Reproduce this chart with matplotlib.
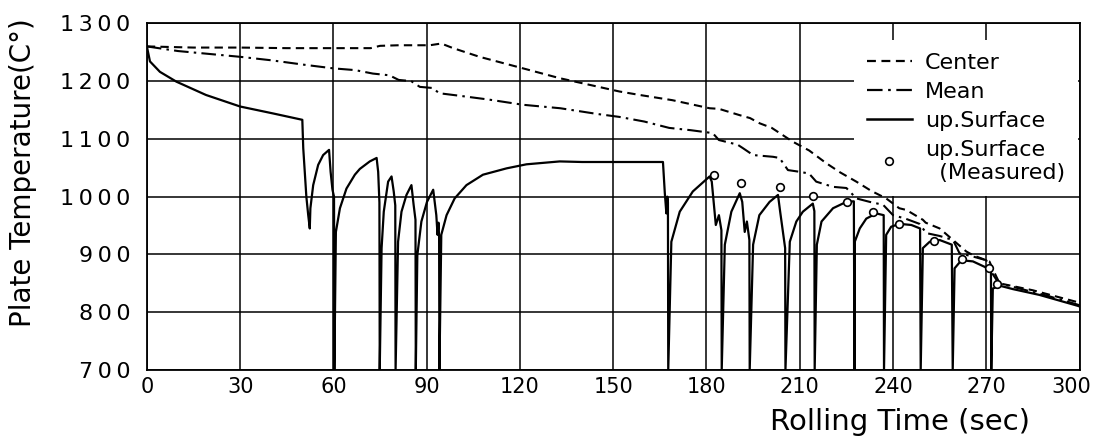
import numpy as np
import matplotlib
matplotlib.use('Agg')
import matplotlib.pyplot as plt
from matplotlib.lines import Line2D
from matplotlib.transforms import ScaledTranslation

#values, time in sec and temperature in C
#700 in the surface series stands for the sharp drops that go below the axis

center_t = [0, 15, 30, 45, 60, 72, 75, 81, 88, 91, 94.7, 98.5, 107, 121, 132.8,
            152, 158.5, 169, 181, 184, 190.7, 194, 197.1, 201, 207.8, 213, 218.5,
            223, 228.2, 233, 237.8, 242, 244.3, 249.6, 250.5, 255, 259.3, 263.6,
            266, 270, 271, 273.2, 274.3, 285, 299, 300]
center_T = [1260, 1258, 1258, 1257, 1257, 1257, 1261, 1262, 1262, 1262, 1265, 1257,
            1242, 1222, 1205, 1182, 1176, 1167, 1153, 1152, 1141, 1136, 1127, 1119,
            1095, 1080, 1058, 1042, 1026, 1010, 997, 980, 977, 960, 955, 945, 925,
            905, 898, 890, 888, 862, 850, 838, 818, 817]

mean_t = [0, 10, 20, 30, 40, 51, 60, 67, 72.7, 78, 81, 85, 87.8, 92, 94, 100, 110,
          121, 133, 145, 152, 160, 168, 175, 182, 184, 190, 191.7, 195, 201.4,
          203.5, 206.2, 210, 213, 215.3, 220.7, 225, 228.2, 232.5, 236.8, 240, 244,
          248.5, 250.7, 255, 259.3, 261.4, 266, 270, 271.6, 274, 280, 290, 299.5, 300]
mean_T = [1260, 1252, 1247, 1242, 1236, 1228, 1222, 1219, 1213, 1210, 1202, 1200,
          1190, 1188, 1179, 1175, 1168, 1159, 1153, 1143, 1138, 1130, 1119, 1115,
          1110, 1098, 1090, 1084, 1072, 1069, 1067, 1046, 1043, 1040, 1026, 1017,
          1015, 997, 991, 986, 968, 962, 953, 937, 932, 925, 902, 896, 890, 870,
          850, 842, 828, 813, 812]

surf_t = [0, 1, 4.2, 9.5, 19, 30, 40.6, 50, 50.3, 51.3, 51.9, 52.4, 52.6, 53.5, 55.1,
          56.7, 58.6, 59.1, 59.7, 60.2, 60.3, 60.8, 62.1, 64.2, 66.9, 68.5, 71.7,
          73.9, 74.4, 74.8, 74.9, 75.5, 76.2, 77.6, 78.7, 79.4, 79.9, 80.0, 80.8,
          81.9, 83.5, 85.1, 85.8, 86.4, 86.5, 87.0, 88.3, 90.1, 92.1, 93.1, 93.5,
          93.8, 94.0, 94.1, 94.7, 96.4, 99.0, 102.8, 108.1, 115.7, 122.1, 132.8,
          140, 166, 166.6, 167.1, 167.4, 167.6, 167.7, 168.7, 171.4, 175.6, 181.0,
          181.7, 183.0, 184.0, 184.8, 184.9, 185.9, 188.0, 190.7, 191.5, 192.3,
          193.0, 193.8, 193.9, 195.0, 197.0, 200.3, 203.0, 203.7, 204.6, 205.3,
          205.4, 206.8, 208.9, 211.0, 214.2, 214.7, 214.8, 215.5, 217.0, 220.7,
          225.0, 227.4, 227.6, 227.7, 229.3, 231.4, 234.6, 237.0, 237.1, 237.8,
          239.4, 242.1, 245.9, 248.7, 248.9, 249.6, 251.8, 255.0, 258.9, 259.2,
          259.8, 262.0, 265.7, 270.5, 271.5, 271.6, 272.1, 274.3, 278.6, 287.1,
          299.5, 300]
surf_T = [1260, 1234, 1216, 1199, 1176, 1156, 1144, 1133, 1084, 1000, 968, 945, 980,
          1020, 1055, 1072, 1081, 1043, 1012, 1000, 700, 939, 980, 1014, 1038, 1048,
          1061, 1067, 1043, 990, 700, 911, 974, 1026, 1035, 1009, 985, 700, 922, 974,
          1003, 1020, 986, 960, 700, 899, 957, 991, 1012, 968, 934, 955, 930, 700,
          934, 968, 997, 1020, 1038, 1049, 1056, 1061, 1060, 1060, 1006, 971, 1000,
          990, 700, 922, 974, 1009, 1035, 1026, 951, 968, 942, 700, 917, 974, 1006,
          991, 939, 957, 925, 700, 917, 968, 991, 1003, 974, 939, 911, 700, 922, 957,
          974, 988, 975, 700, 917, 957, 980, 991, 992, 700, 922, 945, 962, 971, 968,
          700, 934, 948, 953, 951, 945, 700, 911, 922, 925, 917, 700, 876, 890, 888,
          876, 872, 700, 841, 846, 840, 830, 811, 810]

meas_t = [182.4, 191.2, 203.5, 214.2, 225.3, 233.4, 242.0, 253.3, 262.1, 270.8, 273.6]
meas_T = [1037, 1024, 1016, 1002, 990, 973, 952, 924, 892, 877, 849]

xticks = list(range(0, 301, 30))
yticks = list(range(700, 1301, 100))
#the scan spreads the digits of the y labels apart
ytick_labels = ['\u2009'.join(str(v)) for v in yticks]

fig = plt.figure(figsize=(10.96, 4.48), dpi=100)
ax = fig.add_axes([0.134, 0.174, 0.851, 0.774])

ax.plot(center_t, center_T, color='black', linewidth=1.5, dashes=(4, 2.5), zorder=3)
ax.plot(mean_t, mean_T, color='black', linewidth=1.5, dashes=(7, 2.5, 1.2, 2.5), zorder=3)
ax.plot(surf_t, surf_T, color='black', linewidth=1.6, zorder=3)
ax.plot(meas_t, meas_T, linestyle='none', marker='o', markersize=5.5,
        markerfacecolor='white', markeredgecolor='black', markeredgewidth=1.2, zorder=4)

ax.set_xlim(0, 300)
ax.set_ylim(700, 1300)
ax.set_xticks(xticks)
ax.set_yticks(yticks)
ax.set_yticklabels(ytick_labels)
ax.tick_params(axis='both', length=0)
ax.tick_params(axis='x', labelsize=15, pad=5)
ax.tick_params(axis='y', labelsize=16, pad=12)
ax.grid(True, color='black', linewidth=1.1)
for s in ax.spines.values():
    s.set_linewidth(1.3)

#last x label sits a bit left of its grid line so it stays on the page
last = ax.get_xticklabels()[-1]
last.set_horizontalalignment('right')
last.set_transform(last.get_transform() + ScaledTranslation(8/72, 0, fig.dpi_scale_trans))

ax.set_xlabel('Rolling Time (sec)', fontsize=21)
ax.xaxis.set_label_coords(0.807, -0.11)
#ylabel placed by hand, the axis label got pushed off the left edge
fig.text(0.021, 0.615, 'Plate Temperature(C°)', fontsize=20, rotation=90,
         ha='center', va='center')

#legend sits on a plain white patch that hides the grid but not the curves
handles = [Line2D([], [], color='black', linewidth=1.6, dashes=(4, 2.5)),
           Line2D([], [], color='black', linewidth=1.6, dashes=(7, 2.5, 1.2, 2.5)),
           Line2D([], [], color='black', linewidth=1.8),
           Line2D([], [], linestyle='none', marker='o', markersize=5.5,
                  markerfacecolor='white', markeredgecolor='black', markeredgewidth=1.2)]
labels = ['Center', 'Mean', 'up.Surface', 'up.Surface\n  (Measured)']
leg = ax.legend(handles, labels, loc='upper left', bbox_to_anchor=(0.758, 0.953),
                fontsize=16, frameon=True, fancybox=False, borderpad=0.6,
                borderaxespad=0, labelspacing=0.4, handlelength=2.0,
                handletextpad=0.6)
leg.get_frame().set_facecolor('white')
leg.get_frame().set_edgecolor('none')
leg.get_frame().set_alpha(1)
leg.set_zorder(2)

plt.savefig('out.png', dpi=100)
